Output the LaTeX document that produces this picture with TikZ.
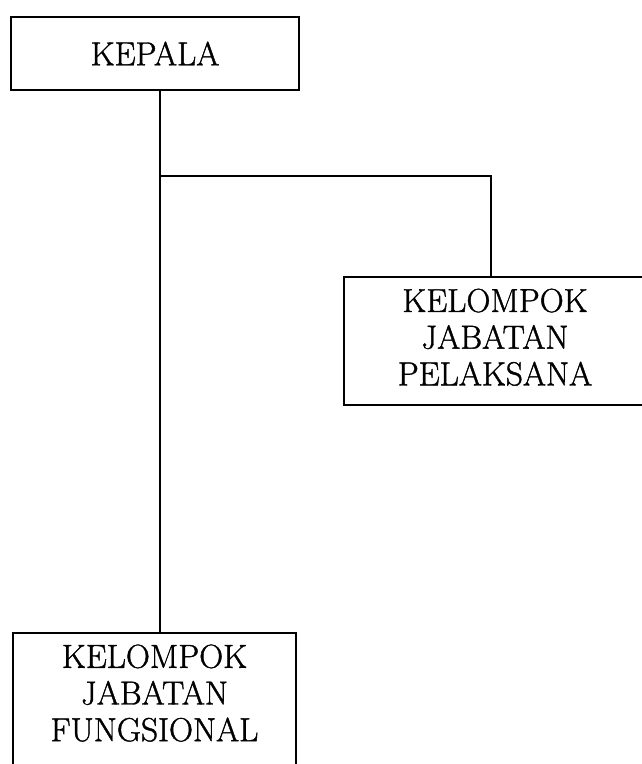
\documentclass[tikz,border=0pt]{standalone}
\usepackage{fontspec}
\newfontfamily\orgfont{Latin Modern Roman}[FakeBold=1.2]
\begin{document}
\begin{tikzpicture}[x=0.75pt,y=-0.75pt,
  orgline/.style={line width=1.8pt},
  orgbox/.style={draw, line width=1.8pt, align=center, font=\orgfont\fontsize{25}{27.5}\selectfont, inner sep=0pt}]
\useasboundingbox (0,0) rectangle (642,764);
\clip (0,0) rectangle (642,764);
\node[orgbox, minimum width=216pt, minimum height=54.75pt] (kepala) at (155,53.5) {KEPALA};
\node[orgbox, minimum width=226.5pt, minimum height=96pt, text depth=6pt] (pel) at (495,341) {KELOMPOK\\JABATAN\\PELAKSANA};
\node[orgbox, minimum width=212.25pt, minimum height=102.75pt, text depth=13pt] (fung) at (154.5,701.5) {KELOMPOK\\JABATAN\\FUNGSIONAL};
\coordinate (j) at (160,176);
\coordinate (k) at (491,176);
\draw[orgline] (kepala.south -| j) -- (fung.north -| j);
\draw[orgline] (j) -- (k) -- (k |- pel.north);
\end{tikzpicture}
\end{document}
